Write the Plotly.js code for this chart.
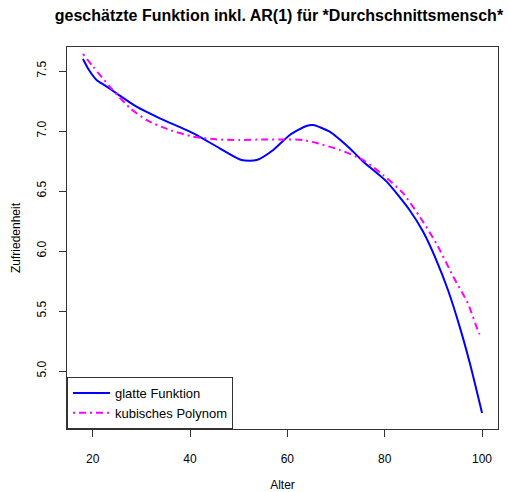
<!DOCTYPE html>
<html>
<head>
<meta charset="utf-8">
<script src="https://cdn.plot.ly/plotly-3.0.1.min.js"></script>
<style>html,body{margin:0;padding:0;background:#fff;}#chart{width:509px;height:492px;}</style>
</head>
<body>
<div id="chart"></div>
<script>
var glattAge = [18, 19.2, 20.8, 22.5, 24.9, 29.0, 33.8, 40.7, 46.1, 50.6, 53.7, 57.1, 60.5, 63.9, 65.3, 68.7, 72.8, 75.6, 80.4, 85.1, 87.9, 90.6, 93.0, 95.4, 97.5, 100];
var glattVal = [7.60, 7.51, 7.425, 7.38, 7.314, 7.203, 7.106, 6.98, 6.856, 6.758, 6.758, 6.842, 6.967, 7.042, 7.05, 6.994, 6.856, 6.744, 6.578, 6.342, 6.16, 5.925, 5.675, 5.37, 5.064, 4.65];
var polyAge = [18, 20.1, 23.5, 27.7, 31.1, 35.9, 40.7, 45.5, 50.2, 55.7, 59.1, 63.2, 66.0, 70.8, 75.6, 79.7, 83.8, 87.2, 90.6, 94.1, 97.1, 99.4, 100];
var polyVal = [7.642, 7.536, 7.37, 7.19, 7.09, 7.008, 6.953, 6.93, 6.925, 6.93, 6.93, 6.925, 6.90, 6.842, 6.758, 6.633, 6.48, 6.286, 6.064, 5.786, 5.564, 5.314, 5.28];
var xTicks = [20, 40, 60, 80, 100];
var yTicks = [5.0, 5.5, 6.0, 6.5, 7.0, 7.5];
var yTickText = ["5.0", "5.5", "6.0", "6.5", "7.0", "7.5"];

var traces = [
  {x: glattAge, y: glattVal, type: 'scatter', mode: 'lines', name: 'glatte Funktion',
   line: {color: '#0000ff', width: 2, shape: 'spline', smoothing: 0.6}},
  {x: polyAge, y: polyVal, type: 'scatter', mode: 'lines', name: 'kubisches Polynom',
   line: {color: '#ff00ff', width: 2, dash: '2px,4px,7px,4px', shape: 'spline', smoothing: 0.6}}
];

var font = {family: 'Liberation Sans, Arial, sans-serif', size: 12, color: '#000'};
var legFont = {family: 'Liberation Sans, Arial, sans-serif', size: 13, color: '#000'};
var layout = {
  width: 509, height: 492,
  margin: {l: 67, r: 11, t: 47, b: 63},
  paper_bgcolor: '#fff', plot_bgcolor: '#fff',
  font: font,
  showlegend: true,
  title: {text: 'geschätzte Funktion inkl. AR(1) für *Durchschnittsmensch*',
    font: {family: 'Liberation Sans, Arial, sans-serif', size: 16, color: '#000', weight: 'bold'},
    x: 0.548, xanchor: 'center', y: 0.968, yanchor: 'middle'},
  xaxis: {range: [14.72, 103.28], tickvals: xTicks, ticks: 'outside', ticklen: 7, tickcolor: '#333',
    showgrid: false, zeroline: false, showline: true, mirror: true, linecolor: '#333', linewidth: 1,
    ticklabelstandoff: 12,
    title: {text: 'Alter', font: font, standoff: 20}},
  yaxis: {range: [4.517, 7.70], tickvals: yTicks, ticktext: yTickText, tickangle: -90, ticks: 'outside', ticklen: 7, tickcolor: '#333',
    showgrid: false, zeroline: false, showline: true, mirror: true, linecolor: '#333', linewidth: 1,
    ticklabelstandoff: 8,
    title: {text: 'Zufriedenheit', font: font, standoff: 12}},
  legend: {x: 0, y: 0, xanchor: 'left', yanchor: 'bottom', bgcolor: '#fff', bordercolor: '#333', borderwidth: 1,
    font: legFont, traceorder: 'normal', tracegroupgap: 0, itemwidth: 37}
};
Plotly.newPlot('chart', traces, layout, {displayModeBar: false, staticPlot: true});
</script>
</body>
</html>
